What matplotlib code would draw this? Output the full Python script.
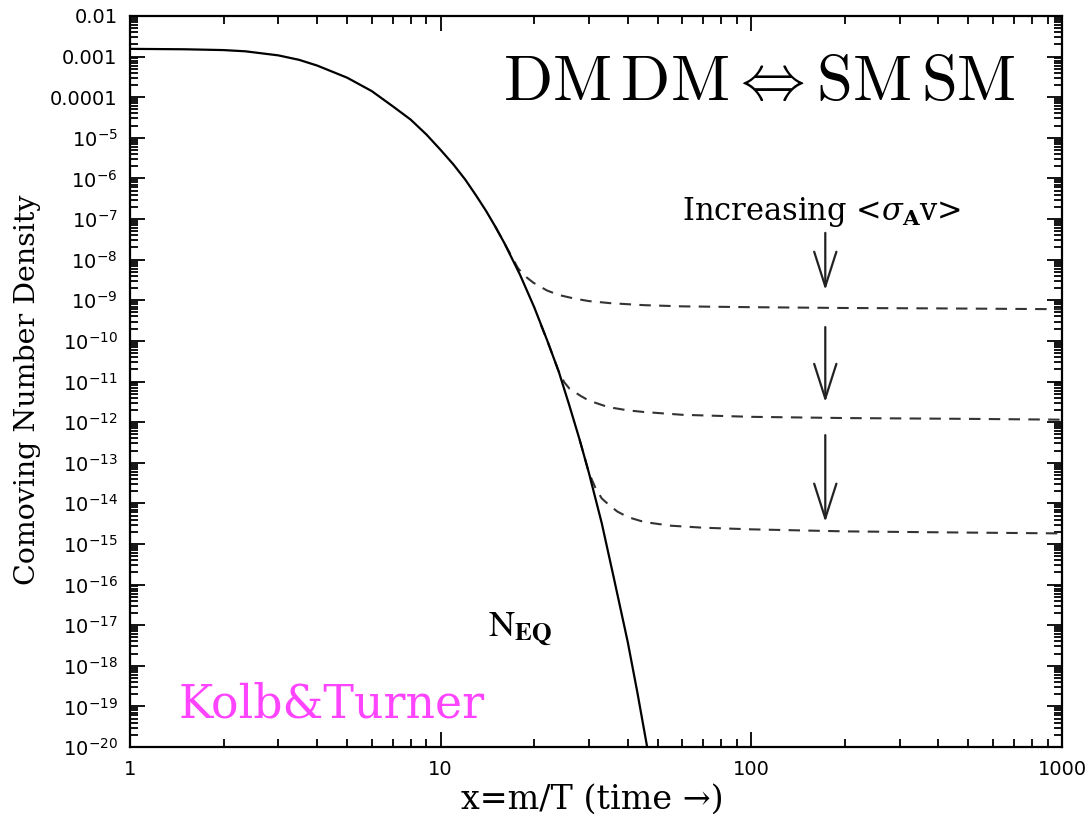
import numpy as np
import matplotlib
matplotlib.use("Agg")
import matplotlib.pyplot as plt
from matplotlib.ticker import FixedLocator, LogLocator, FuncFormatter, NullFormatter

# equilibrium curve N_EQ (x, log10 N)
neq_x = [1.0, 1.5, 2.0, 2.35, 3.0, 3.5, 4.0, 5.0, 6.0, 7.0, 8.0, 9.0, 10.0, 11.0,
         12.0, 13.0, 14.0, 15.0, 16.0, 18.0, 20.0, 22.0, 24.0, 26.0, 28.0, 30.0,
         33.0, 36.0, 40.0, 43.0, 46.2]
neq_log = [-2.81, -2.82, -2.84, -2.87, -2.97, -3.08, -3.22, -3.52, -3.85, -4.22,
           -4.55, -4.92, -5.30, -5.66, -6.03, -6.42, -6.80, -7.19, -7.58, -8.37,
           -9.17, -9.98, -10.76, -11.61, -12.43, -13.25, -14.49, -15.80, -17.41,
           -18.67, -20.0]

# freeze-out curves (dashed), increasing <sigma_A v> from top to bottom
top_x = [15.0, 16.0, 17.7, 18.5, 19.9, 22.0, 24.0, 27.0, 30.0, 35.0, 45.0, 60.0,
         100.0, 200.0, 400.0, 1000.0]
top_log = [-7.19, -7.58, -8.20, -8.38, -8.57, -8.76, -8.87, -8.96, -9.02, -9.07,
           -9.12, -9.15, -9.17, -9.19, -9.20, -9.22]
mid_x = [21.0, 22.0, 24.0, 25.0, 26.0, 28.3, 30.0, 34.6, 40.0, 45.0, 60.0, 100.0,
         200.0, 500.0, 1000.0]
mid_log = [-9.60, -9.98, -10.76, -11.02, -11.18, -11.36, -11.47, -11.63, -11.71,
           -11.75, -11.82, -11.87, -11.90, -11.92, -11.94]
bot_x = [28.0, 30.0, 31.5, 33.0, 34.6, 37.0, 40.1, 45.2, 55.0, 70.0, 100.0, 200.0,
         500.0, 1000.0]
bot_log = [-12.43, -13.25, -13.62, -13.88, -14.02, -14.20, -14.34, -14.46, -14.55,
           -14.60, -14.64, -14.69, -14.72, -14.74]

# arrows "increasing <sigma v>" (x, log10 y start, log10 y end)
arrow_x = 173.0
arrow_from = [-7.34, -9.66, -12.32]
arrow_to = [-8.75, -11.51, -14.46]

fig = plt.figure(figsize=(10.9, 8.23), dpi=100)
ax = fig.add_axes([0.1193, 0.0923, 0.8550, 0.8883])

ax.plot(neq_x, 10.0 ** np.array(neq_log), color="black", lw=1.6, zorder=3)
for xs, ls in [(top_x, top_log), (mid_x, mid_log), (bot_x, bot_log)]:
    ax.plot(xs, 10.0 ** np.array(ls), color="#333333", lw=1.5,
            linestyle=(0, (5.5, 4.0)), zorder=2)

for y0, y1 in zip(arrow_from, arrow_to):
    ax.annotate("", xy=(arrow_x, 10.0 ** y1), xytext=(arrow_x, 10.0 ** y0),
                arrowprops=dict(arrowstyle="->,head_length=25,head_width=8",
                                mutation_scale=1, color="#222222", lw=1.6,
                                shrinkA=0, shrinkB=0))

ax.set_xscale("log")
ax.set_yscale("log")
ax.set_xlim(1, 1000)
ax.set_ylim(1e-20, 1e-2)


def ylab(v, pos):
    e = int(round(np.log10(v)))
    if e >= -4:
        return {-2: "0.01", -3: "0.001", -4: "0.0001"}[e]
    return r"$10^{%d}$" % e


ax.yaxis.set_major_locator(FixedLocator([10.0 ** e for e in range(-20, -1)]))
ax.yaxis.set_major_formatter(FuncFormatter(ylab))
ax.yaxis.set_minor_locator(LogLocator(base=10, subs=np.arange(2, 10), numticks=100))
ax.yaxis.set_minor_formatter(NullFormatter())
ax.xaxis.set_major_locator(FixedLocator([1, 10, 100, 1000]))
ax.xaxis.set_major_formatter(FuncFormatter(lambda v, p: "%d" % round(v)))
ax.xaxis.set_minor_formatter(NullFormatter())

ax.tick_params(which="both", direction="in", top=True, right=True, width=1.3)
ax.tick_params(which="major", length=11, labelsize=14, pad=9)
ax.tick_params(which="minor", length=6)
for s in ax.spines.values():
    s.set_linewidth(1.6)

serif = "DejaVu Serif"
ax.text(0.675, 0.91, r"$\mathrm{DM\,DM}\Leftrightarrow\mathrm{SM\,SM}$",
        transform=ax.transAxes, ha="center", va="center", fontsize=46.5,
        math_fontfamily="cm")
ax.text(0.592, 0.732, r"Increasing <$\sigma_{\mathbf{A}}$v>", transform=ax.transAxes,
        ha="left", va="center", fontsize=22, family=serif, math_fontfamily="dejavuserif")
ax.text(0.384, 0.150, r"$\mathrm{N}_{\mathbf{EQ}}$", transform=ax.transAxes,
        ha="left", va="baseline", fontsize=26, math_fontfamily="stix")
ax.text(0.0515, 0.0575, "Kolb&Turner", transform=ax.transAxes, ha="left",
        va="center", fontsize=33, family=serif, color="#ff44ff")

fig.text(28 / 1090, 1 - 390 / 823, "Comoving Number Density", rotation=90,
         ha="center", va="center", fontsize=20.5, family=serif)
fig.text(592 / 1090, 1 - 800 / 823, "x=m/T (time \u2192)", ha="center", va="center",
         fontsize=24, family=serif)

fig.savefig("out.png", dpi=100)
